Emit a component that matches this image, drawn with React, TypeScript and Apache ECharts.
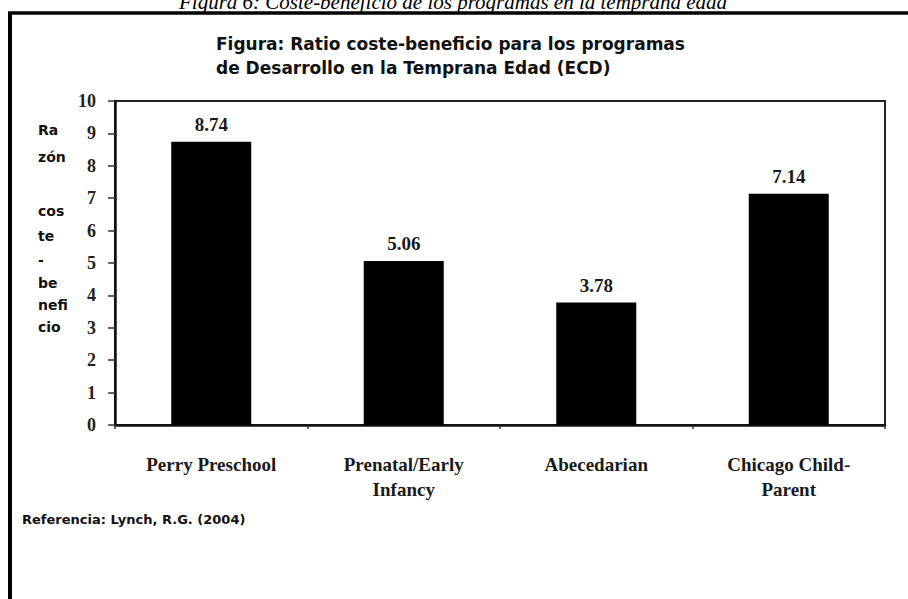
import React, { useEffect, useRef } from "react";
import * as echarts from "echarts";

const caption = "Figura 6: Coste-beneficio de los programas en la temprana edad";
const titleLines = [
  "Figura: Ratio coste-beneficio para los programas",
  "de Desarrollo en la Temprana Edad (ECD)",
];
const categories = [
  "Perry Preschool",
  "Prenatal/Early\nInfancy",
  "Abecedarian",
  "Chicago Child-\nParent",
];
const values = [8.74, 5.06, 3.78, 7.14];
const yMin = 0;
const yMax = 10;
const yInterval = 1;
const yNameParts = ["Ra", "zón", "cos", "te", "-", "be", "nefi", "cio"];
const source = "Referencia: Lynch, R.G. (2004)";

export default function App() {
  const ref = useRef<HTMLDivElement>(null);
  useEffect(() => {
    if (!ref.current) return;
    const chart = echarts.init(ref.current, null, { renderer: "svg" });
    const yNameTops = [132, 159, 213, 238, 262, 285, 307, 329];
    const sansBold = "'DejaVu Sans', Verdana, sans-serif";
    const serif = "'Liberation Serif', 'Times New Roman', serif";
    chart.setOption({
      animation: false,
      backgroundColor: "#ffffff",
      grid: {
        left: 115,
        right: 23,
        top: 101,
        bottom: 174,
        show: true,
        borderColor: "#222",
        borderWidth: 2,
        backgroundColor: "transparent",
      },
      xAxis: {
        type: "category",
        data: categories,
        axisLine: { show: true, lineStyle: { color: "#111", width: 2.5 } },
        axisTick: { show: true, length: 4, lineStyle: { color: "#333", width: 1.5 } },
        axisLabel: {
          color: "#1a1a1a",
          fontFamily: serif,
          fontWeight: "bold",
          fontSize: 19,
          lineHeight: 25,
          margin: 27,
          interval: 0,
        },
      },
      yAxis: {
        type: "value",
        min: yMin,
        max: yMax,
        interval: yInterval,
        axisLine: { show: true, lineStyle: { color: "#111", width: 2.5 } },
        axisTick: { show: true, length: 7, lineStyle: { color: "#333", width: 1.5 } },
        splitLine: { show: false },
        axisLabel: {
          color: "#222",
          fontFamily: serif,
          fontWeight: "bold",
          fontSize: 18,
          margin: 19,
        },
      },
      series: [
        {
          type: "bar",
          data: values,
          barWidth: 80,
          itemStyle: { color: "#000" },
          label: {
            show: true,
            position: "top",
            distance: 8,
            color: "#1a1a1a",
            fontFamily: serif,
            fontWeight: "bold",
            fontSize: 19,
            formatter: (p: any) => p.value.toFixed(2),
          },
        },
      ],
      graphic: [
        {
          type: "text",
          x: 453,
          y: 12,
          style: {
            text: caption,
            fontFamily: serif,
            fontStyle: "italic",
            fontSize: 21,
            fill: "#000",
            align: "center",
            verticalAlign: "bottom",
          },
        },
        {
          type: "line",
          shape: { x1: 10, y1: 12, x2: 10, y2: 599 },
          style: { stroke: "#000", lineWidth: 4 },
        },
        {
          type: "line",
          shape: { x1: 8, y1: 13, x2: 908, y2: 13 },
          style: { stroke: "#000", lineWidth: 3.5 },
        },
        ...titleLines.map((t, i) => ({
          type: "text",
          left: 216,
          top: 35 + i * 24,
          style: {
            text: t,
            fontFamily: sansBold,
            fontWeight: "bold",
            fontSize: 17,
            fill: "#111",
          },
        })),
        ...yNameParts.map((t, i) => ({
          type: "text",
          left: 38,
          top: yNameTops[i] - 9,
          style: {
            text: t,
            fontFamily: sansBold,
            fontWeight: "bold",
            fontSize: 14,
            fill: "#111",
          },
        })),
        {
          type: "text",
          left: 22,
          top: 513,
          style: {
            text: source,
            fontFamily: sansBold,
            fontWeight: "bold",
            fontSize: 13,
            fill: "#111",
          },
        },
      ],
    });
    return () => chart.dispose();
  }, []);
  return (
    <div
      ref={ref}
      style={{ position: "fixed", left: 0, top: 0, width: 908, height: 599 }}
    />
  );
}
